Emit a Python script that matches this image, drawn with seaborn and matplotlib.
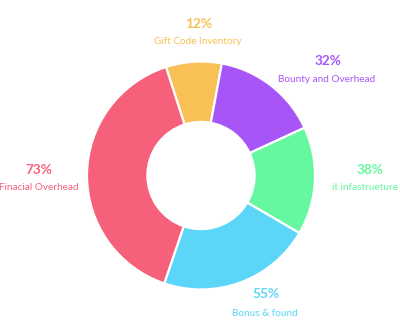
import matplotlib
matplotlib.use("Agg")
import matplotlib.pyplot as plt
import seaborn as sns

# Budget categories, listed clockwise from the top slice
categories = ["Gift Code Inventory", "Bounty and Overhead", "it infastrueture",
              "Bonus & found", "Finacial Overhead"]
shares = [7.9, 15.2, 15.3, 21.8, 39.8]          # slice sizes
percent_labels = ["12%", "32%", "38%", "55%", "73%"]  # headline figures shown beside each slice
colors = ["#F8C055", "#A855F7", "#66F8A0", "#5CD6F8", "#F6607A"]

sns.set_theme(style="white")
plt.rcParams["font.family"] = ["Lato", "DejaVu Sans"]
palette = sns.color_palette(colors)

W, H = 400, 335
fig = plt.figure(figsize=(W / 100, H / 100), dpi=100)
fig.patch.set_facecolor("white")

cx, cy, r = 201, 175.5, 114
ax = fig.add_axes([(cx - r) / W, (H - cy - r) / H, 2 * r / W, 2 * r / H])
ax.pie(shares, colors=palette, startangle=107.9, counterclock=False,
       radius=1.0,
       wedgeprops=dict(width=0.53, edgecolor="white", linewidth=1.6))
ax.set_xlim(-1, 1)
ax.set_ylim(-1, 1)
ax.set_aspect("equal")
ax.axis("off")

# label anchors: (x of percent, y of percent, x of name, y of name) in pixels
anchors = [(199, 24, 198, 42), (328, 61, 327, 79), (370, 170, 365, 188),
           (266, 294, 265, 313), (39, 170, 39, 188)]
for name, pct, col, (x1, y1, x2, y2) in zip(categories, percent_labels, colors, anchors):
    fig.text(x1 / W, 1 - y1 / H, pct, color=col, fontsize=9.8, fontweight="bold",
             ha="center", va="center")
    fig.text(x2 / W, 1 - y2 / H, name, color=col, fontsize=7.2,
             ha="center", va="center")

fig.savefig("out.png", dpi=100, facecolor="white")
